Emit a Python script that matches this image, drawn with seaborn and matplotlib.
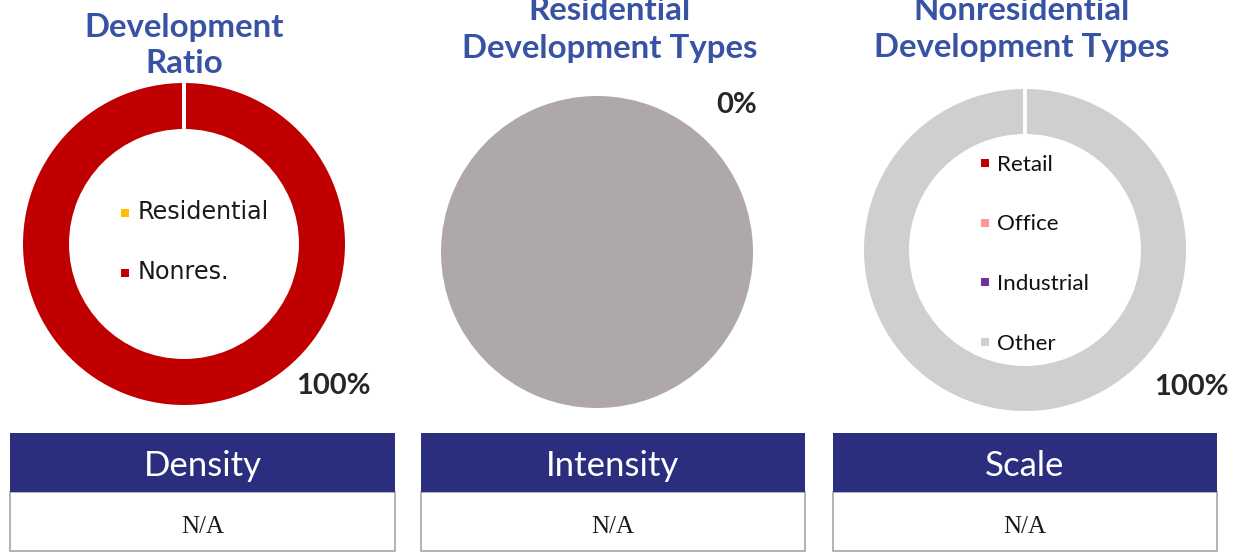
import matplotlib
matplotlib.use("Agg")
import matplotlib.pyplot as plt
from matplotlib.patches import Rectangle
import seaborn as sns

# ---- data ----
ratio_labels = ["Residential", "Nonres."]
ratio_values = [0, 100]
ratio_colors = ["#FFC000", "#C00000"]

res_type_labels = ["Residential", "Remainder"]
res_type_values = [0, 100]
res_type_colors = ["#FFC000", "#AFA8AB"]

nonres_labels = ["Retail", "Office", "Industrial", "Other"]
nonres_values = [0, 0, 0, 100]
nonres_colors = ["#C00000", "#FF9999", "#7030A0", "#D0CECE"]

titles = [["Development", "Ratio"],
          ["Residential", "Development Types"],
          ["Nonresidential", "Development Types"]]
metric_names = ["Density", "Intensity", "Scale"]
metric_values = ["N/A", "N/A", "N/A"]

# ---- style ----
sns.set_theme(style="white")
plt.rcParams["font.family"] = ["Lato", "DejaVu Sans"]

W, H = 1249, 552
fig = plt.figure(figsize=(W / 100, H / 100), dpi=100)
fig.patch.set_facecolor("white")

TITLE_BLUE = "#3953A4"
NAVY = "#2B2D7E"
DARK = "#262626"


def pie_axes(cx, cy, size):
    return fig.add_axes([(cx - size / 2) / W, (H - cy - size / 2) / H, size / W, size / H])


def finish(ax, size):
    ax.set_xlim(-size / 2, size / 2)
    ax.set_ylim(-size / 2, size / 2)
    ax.axis("off")


S = 360

# Development ratio donut
ax1 = pie_axes(184, 244, S)
ax1.pie(ratio_values, colors=ratio_colors, radius=161, startangle=90, counterclock=False,
        wedgeprops=dict(width=46, linewidth=0))
ax1.plot([0, 0], [161 - 47, 162], color="white", lw=2.8, solid_capstyle="butt")
finish(ax1, S)

# Residential types pie
ax2 = pie_axes(597, 252, S)
ax2.pie(res_type_values, colors=res_type_colors, radius=156, startangle=90, counterclock=False,
        wedgeprops=dict(linewidth=0))
finish(ax2, S)

# Nonresidential types donut
ax3 = pie_axes(1025, 250, S)
ax3.pie(nonres_values, colors=nonres_colors, radius=161, startangle=90, counterclock=False,
        wedgeprops=dict(width=45, linewidth=0))
ax3.plot([0, 0], [161 - 46, 162], color="white", lw=2.8, solid_capstyle="butt")
finish(ax3, S)

# overlay in pixel coordinates for titles, legends, labels and tables
ov = fig.add_axes([0, 0, 1, 1])
ov.set_xlim(0, W)
ov.set_ylim(H, 0)
ov.axis("off")
ov.patch.set_alpha(0)

# titles
title_x = [184, 610, 1022]
title_baselines = [[37, 73], [20, 58], [20, 57]]
for tx, lines, bls in zip(title_x, titles, title_baselines):
    for line, bl in zip(lines, bls):
        ov.text(tx, bl, line, ha="center", va="baseline", fontsize=23.8,
                fontweight="bold", color=TITLE_BLUE)

# value labels
ov.text(333, 394, f"{ratio_values[1]}%", ha="center", va="baseline", fontsize=21,
        fontweight="bold", color=DARK)
ov.text(737, 113, f"{res_type_values[0]}%", ha="center", va="baseline", fontsize=21,
        fontweight="bold", color=DARK)
ov.text(1191, 395, f"{nonres_values[3]}%", ha="center", va="baseline", fontsize=21,
        fontweight="bold", color=DARK)

# legend inside the first donut
for i, (lab, col) in enumerate(zip(ratio_labels, ratio_colors)):
    y = 213 + i * 60
    ov.scatter([125], [y], marker="s", s=33, color=col, linewidths=0)
    ov.text(138, y + 6, lab, ha="left", va="baseline", fontsize=17.2,
            family=["DejaVu Sans"], color="#1A1A1A")

# legend inside the third donut
for i, (lab, col) in enumerate(zip(nonres_labels, nonres_colors)):
    y = 163 + i * 59.5
    ov.scatter([985], [y], marker="s", s=33, color=col, linewidths=0)
    ov.text(997, y + 8, lab, ha="left", va="baseline", fontsize=16.2,
            color="#111111")

# metric tables
boxes = [(10, 395), (421, 805), (833, 1217)]
for (x0, x1), name, val in zip(boxes, metric_names, metric_values):
    ov.add_patch(Rectangle((x0, 492), x1 - x0, 59, facecolor="white",
                           edgecolor="#A6A6A6", linewidth=1.2))
    ov.add_patch(Rectangle((x0, 433), x1 - x0, 59, facecolor=NAVY, edgecolor="none"))
    cx = (x0 + x1) / 2
    ov.text(cx, 476, name, ha="center", va="baseline", fontsize=25,
            fontweight="normal", color="white")
    ov.text(cx, 533, val, ha="center", va="baseline", fontsize=18,
            family=["Liberation Serif"], color="#1A1A1A")

fig.savefig("out.png", dpi=100)
